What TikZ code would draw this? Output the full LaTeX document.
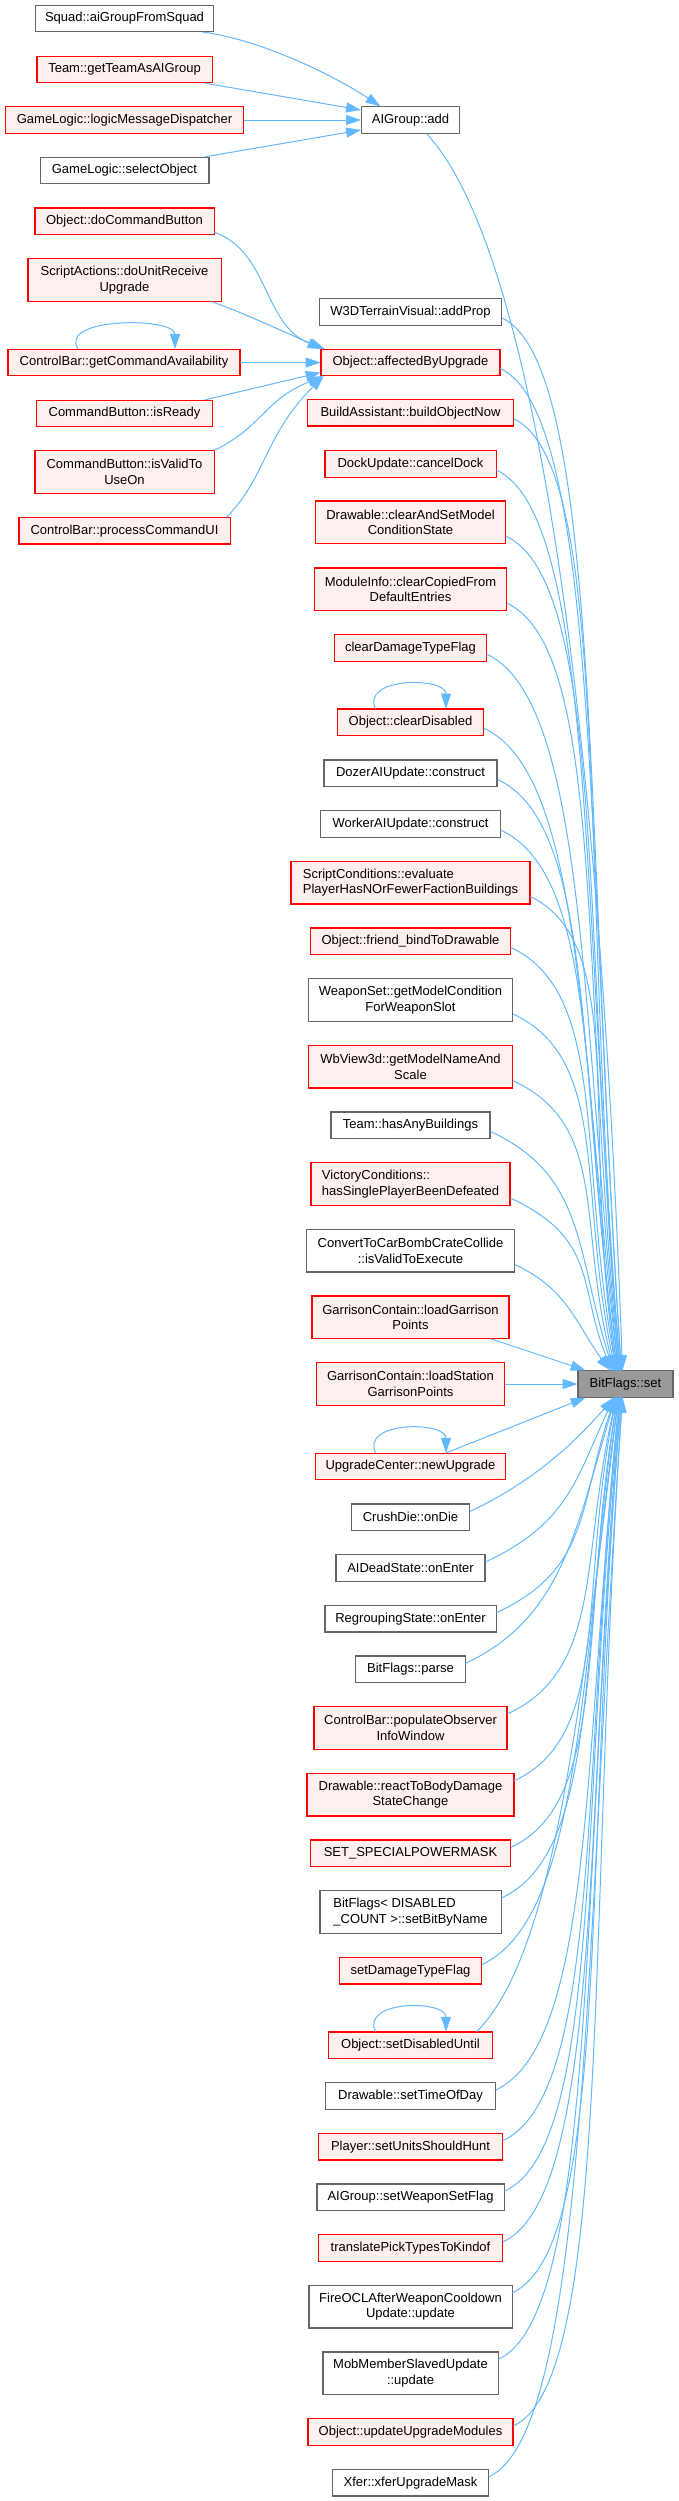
\documentclass[tikz,border=0pt]{standalone}
\usepackage{fontspec}
\setmainfont{Liberation Sans}
\usetikzlibrary{arrows.meta}
\definecolor{edgec}{HTML}{63B8FF}
\definecolor{rfill}{HTML}{FFF0F0}
\definecolor{gline}{HTML}{666666}
\definecolor{rootfill}{HTML}{999999}
\newcommand\nfont{\fontsize{13}{15.7}\selectfont}
\newcommand\upe[8]{%
\draw[edgel] ([yshift=#2pt]#1.east) .. controls +(#3,#4) and +(#5,#6) .. ([xshift=#7pt]bset.north);
\draw[edge] ([xshift=#7pt,shift={(#8:16pt)}]bset.north) -- ([xshift=#7pt]bset.north);}
\newcommand\lowe[8]{%
\draw[edgel] ([yshift=#2pt]#1.east) .. controls +(#3,#4) and +(#5,#6) .. ([xshift=#7pt]bset.south);
\draw[edge] ([xshift=#7pt,shift={(#8:16pt)}]bset.south) -- ([xshift=#7pt]bset.south);}
\begin{document}
\begin{tikzpicture}[x=1pt,y=1pt,scale=0.5,every node/.append style={transform shape},
 nb/.style={rectangle, inner sep=2pt, font=\nfont, line width=0.65pt, align=center, minimum height=26.5pt},
 wb/.style={nb, draw=gline, fill=white},
 rb/.style={nb, draw=red, fill=rfill},
 rootb/.style={nb, draw=gline, fill=rootfill},
 two/.style={minimum height=42.7pt},
 edgel/.style={draw=edgec, line width=0.5pt},
 edge/.style={edgel, -{Triangle[length=7.5pt,width=5pt]}},
]
\useasboundingbox (0,0) rectangle (679,-2501);
% column 1
\node[wb, minimum width=178pt] (squad) at (124.5,-18.5) {Squad::aiGroupFromSquad};
\node[rb, minimum width=175.3pt] (team) at (124.5,-69.5) {Team::getTeamAsAIGroup};
\node[rb, minimum width=238.5pt] (lmd) at (124.5,-120) {GameLogic::logicMessageDispatcher};
\node[wb, minimum width=168.7pt] (sel) at (124.5,-170.5) {GameLogic::selectObject};
\node[rb, minimum width=179.3pt] (dcb) at (124.5,-221.3) {Object::doCommandButton};
\node[rb, two, minimum width=193.3pt] (sa) at (124.5,-280) {ScriptActions::doUnitReceive\\Upgrade};
\node[rb, minimum width=232pt] (gca) at (124,-362.5) {ControlBar::getCommandAvailability};
\node[rb, minimum width=175.6pt] (isr) at (124.5,-413.5) {CommandButton::isReady};
\node[rb, two, minimum width=179.3pt] (ivu) at (124.5,-472) {CommandButton::isValidTo\\UseOn};
\node[rb, minimum width=211.3pt] (pcu) at (124.5,-530.7) {ControlBar::processCommandUI};
% column 2
\node[wb, minimum width=98.2pt] (aiadd) at (410.5,-120) {AIGroup::add};
\node[wb, minimum width=182.5pt] (w3d) at (410.5,-312) {W3DTerrainVisual::addProp};
\node[rb, minimum width=179pt] (abu) at (410.5,-362.5) {Object::affectedByUpgrade};
\node[rb, minimum width=205.6pt] (bon) at (410.5,-412.7) {BuildAssistant::buildObjectNow};
\node[rb, minimum width=171.3pt] (cd) at (410.5,-464) {DockUpdate::cancelDock};
\node[rb, two, minimum width=190.6pt] (casm) at (410.5,-522.3) {Drawable::clearAndSetModel\\ConditionState};
\node[rb, two, minimum width=192.5pt] (mi) at (410.5,-589.3) {ModuleInfo::clearCopiedFrom\\DefaultEntries};
\node[rb, minimum width=151.4pt] (cdtf) at (410.5,-648) {clearDamageTypeFlag};
\node[rb, minimum width=146.5pt] (cdis) at (410.5,-722.3) {Object::clearDisabled};
\node[wb, minimum width=173.2pt] (dozer) at (410.5,-773.3) {DozerAIUpdate::construct};
\node[wb, minimum width=179.6pt] (worker) at (410.5,-824) {WorkerAIUpdate::construct};
\node[rb, two, align=left, minimum width=239pt] (sc) at (410.5,-882.7) {ScriptConditions::evaluate\\PlayerHasNOrFewerFactionBuildings};
\node[rb, minimum width=199.6pt] (fb) at (410.5,-941.3) {Object::friend\_bindToDrawable};
\node[wb, two, minimum width=204.6pt] (ws) at (410.5,-1000) {WeaponSet::getModelCondition\\ForWeaponSlot};
\node[rb, two, minimum width=204.6pt] (wbv) at (410.5,-1066.7) {WbView3d::getModelNameAnd\\Scale};
\node[wb, minimum width=159pt] (hab) at (410.5,-1125.3) {Team::hasAnyBuildings};
\node[rb, two, align=left, minimum width=199pt] (vc) at (410.5,-1184) {VictoryConditions::\\hasSinglePlayerBeenDefeated};
\node[wb, two, minimum width=208.5pt] (cc) at (410.5,-1250.7) {ConvertToCarBombCrateCollide\\::isValidToExecute};
\node[rb, two, minimum width=197pt] (lg) at (410.5,-1317.3) {GarrisonContain::loadGarrison\\Points};
\node[rb, two, minimum width=188.2pt] (ls) at (410.5,-1384) {GarrisonContain::loadStation\\GarrisonPoints};
\node[rb, minimum width=190.6pt] (nu) at (410.5,-1466.5) {UpgradeCenter::newUpgrade};
\node[wb, minimum width=118.5pt] (crush) at (410.5,-1517.3) {CrushDie::onDie};
\node[wb, minimum width=149pt] (aid) at (410.5,-1568) {AIDeadState::onEnter};
\node[wb, minimum width=171.3pt] (reg) at (410.5,-1618.7) {RegroupingState::onEnter};
\node[wb, minimum width=109.4pt] (parse) at (410.5,-1669.3) {BitFlags::parse};
\node[rb, two, minimum width=193pt] (pop) at (410.5,-1728) {ControlBar::populateObserver\\InfoWindow};
\node[rb, two, minimum width=207pt] (react) at (410.5,-1794.7) {Drawable::reactToBodyDamage\\StateChange};
\node[rb, minimum width=200.4pt] (spm) at (410.5,-1853.3) {SET\_SPECIALPOWERMASK};
\node[wb, two, align=left, minimum width=181.3pt] (sbn) at (410.5,-1912) {BitFlags< DISABLED\\\_COUNT >::setBitByName};
\node[rb, minimum width=141.6pt] (sdtf) at (410.5,-1970.7) {setDamageTypeFlag};
\node[rb, minimum width=163.6pt] (sdu) at (410.5,-2045.3) {Object::setDisabledUntil};
\node[wb, minimum width=169.7pt] (stod) at (410.5,-2096) {Drawable::setTimeOfDay};
\node[rb, minimum width=184pt] (ush) at (410.5,-2146.7) {Player::setUnitsShouldHunt};
\node[wb, minimum width=187.3pt] (wsf) at (410.5,-2197.3) {AIGroup::setWeaponSetFlag};
\node[rb, minimum width=184pt] (tpt) at (410.5,-2248) {translatePickTypesToKindof};
\node[wb, two, minimum width=203.3pt] (focl) at (410.5,-2306.7) {FireOCLAfterWeaponCooldown\\Update::update};
\node[wb, two, minimum width=175.3pt] (mob) at (410.5,-2373.3) {MobMemberSlavedUpdate\\::update};
\node[rb, minimum width=205pt] (uum) at (410.5,-2432) {Object::updateUpgradeModules};
\node[wb, minimum width=156.5pt] (xfer) at (410.5,-2482.7) {Xfer::xferUpgradeMask};
% root
\node[rootb, minimum width=95pt] (bset) at (625.5,-1384) {BitFlags::set};
% edges to AIGroup::add
\draw[edge] ([xshift=-11pt]squad.south east) .. controls +(60,-8) and +(-45,30) .. ([xshift=-30pt]aiadd.north);
\draw[edge] ([xshift=-8pt]team.south east) -- ([yshift=10pt]aiadd.west);
\draw[edge] (lmd.east) -- (aiadd.west);
\draw[edge] ([xshift=-5pt]sel.north east) -- ([yshift=-10pt]aiadd.west);
% edges to Object::affectedByUpgrade
\draw[edge] ([yshift=-11pt]dcb.east) .. controls +(55,-20) and +(-60,25) .. ([xshift=2pt]abu.north west);
\draw[edge] ([xshift=-10pt]sa.south east) .. controls +(30,-10) and +(-30,12) .. ([xshift=4pt]abu.north west);
\draw[edge] (gca.east) -- (abu.west);
\draw[edge] ([xshift=-8pt]isr.north east) -- ([yshift=-10pt]abu.west);
\draw[edge] (ivu.north east) .. controls +(50,25) and +(-60,-25) .. ([xshift=2pt]abu.south west);
\draw[edge] ([xshift=-4pt]pcu.north east) .. controls +(40,40) and +(-60,-60) .. ([xshift=3pt]abu.south west);
% self loops
\draw[edge] ([xshift=-46pt]gca.north) .. controls +(-20,32) and +(0,32) .. ([xshift=51pt]gca.north);
\draw[edge] ([xshift=-35pt]cdis.north) .. controls +(-15,32) and +(0,32) .. ([xshift=35.5pt]cdis.north);
\draw[edge] ([xshift=-35pt]nu.north) .. controls +(-15,32) and +(0,32) .. ([xshift=35.5pt]nu.north);
\draw[edge] ([xshift=-35pt]sdu.north) .. controls +(-15,32) and +(0,32) .. ([xshift=35.5pt]sdu.north);
% edges to BitFlags::set from above
\draw[edgel] ([xshift=16pt]aiadd.south) .. controls +(109.1,-117) and +(-22.7,649.6) .. ([xshift=-3pt]bset.north);
\draw[edge] ([xshift=-3pt,shift={(92:16pt)}]bset.north) -- ([xshift=-3pt]bset.north);
\upe{w3d}{-6}{99.7}{-46.5}{-36.8}{525.7}{-4}{94}
\upe{abu}{-6}{99.7}{-46.5}{-35}{499.8}{-4}{94}
\upe{bon}{-6}{99.7}{-46.5}{-41.5}{474.2}{-5}{95}
\upe{cd}{-6}{99.7}{-46.5}{-39.2}{448.3}{-5}{95}
\upe{casm}{-14}{99.7}{-46.5}{-36.4}{416.4}{-6}{95}
\upe{mi}{-14}{99.7}{-46.5}{-40.1}{381.9}{-6}{96}
\upe{cdtf}{-6}{99.7}{-46.5}{-37.4}{356}{-7}{96}
\upe{cdis}{-6}{99.7}{-46.5}{-39.3}{319.6}{-7}{97}
\upe{dozer}{-6}{99.7}{-46.5}{-41.2}{293.1}{-8}{98}
\upe{worker}{-6}{99.7}{-46.5}{-37.6}{267.4}{-8}{98}
\upe{sc}{-14}{99.7}{-46.5}{-37.1}{234.1}{-9}{99}
\upe{fb}{-6}{99.7}{-46.5}{-40.5}{208.1}{-9}{101}
\upe{ws}{-14}{99.7}{-46.5}{-40}{173.4}{-10}{103}
\upe{wbv}{-14}{99.7}{-46.5}{-40}{139.4}{-11}{106}
\upe{hab}{-6}{99.7}{-46.5}{-39.1}{113.5}{-12}{109}
\upe{vc}{-14}{94.3}{-43.9}{-37.7}{77.3}{-13}{116}
\upe{cc}{-14}{58}{-27}{-34.1}{40.6}{-15}{130}
\draw[edge] ([xshift=-18pt]lg.south east) -- ([xshift=8pt]bset.north west);
\draw[edge] (ls.east) -- (bset.west);
% edges to BitFlags::set from below
\draw[edge] ([xshift=35.5pt]nu.north) -- ([xshift=8pt]bset.south west);
\lowe{crush}{6}{61.6}{28.7}{-35.9}{-44.3}{-12}{-129}
\lowe{aid}{6}{89.7}{41.8}{-37.7}{-74}{-11}{-117}
\lowe{reg}{6}{99.7}{46.5}{-38.7}{-100.8}{-10}{-111}
\lowe{parse}{6}{99.7}{46.5}{-38.9}{-127.2}{-10}{-107}
\lowe{pop}{14}{99.7}{46.5}{-38.2}{-153.3}{-9}{-104}
\lowe{react}{14}{99.7}{46.5}{-39.9}{-187.8}{-9}{-102}
\lowe{spm}{6}{99.7}{46.5}{-39.1}{-221.6}{-8}{-100}
\lowe{sbn}{14}{99.7}{46.5}{-39.1}{-246.9}{-8}{-99}
\lowe{sdtf}{6}{99.7}{46.5}{-39.5}{-281.2}{-7}{-98}
\draw[edgel] ([xshift=-16pt]sdu.north east) .. controls +(77.8,77.8) and +(-38.8,-315.6) .. ([xshift=-7pt]bset.south);
\draw[edge] ([xshift=-7pt,shift={(-97:16pt)}]bset.south) -- ([xshift=-7pt]bset.south);
\lowe{stod}{6}{99.7}{46.5}{-36.2}{-344.1}{-6}{-96}
\lowe{ush}{6}{99.7}{46.5}{-38.9}{-370}{-6}{-96}
\lowe{wsf}{6}{99.7}{46.5}{-41.5}{-394.8}{-5}{-96}
\lowe{tpt}{6}{99.7}{46.5}{-36.8}{-420.4}{-5}{-95}
\lowe{focl}{14}{99.7}{46.5}{-39.1}{-446.3}{-4}{-95}
\lowe{mob}{14}{99.7}{46.5}{-41.9}{-479.2}{-4}{-95}
\lowe{uum}{6}{99.7}{46.5}{-35.9}{-512.7}{-3}{-94}
\lowe{xfer}{6}{99.7}{46.5}{-37.7}{-538.7}{-3}{-94}
\end{tikzpicture}
\end{document}
